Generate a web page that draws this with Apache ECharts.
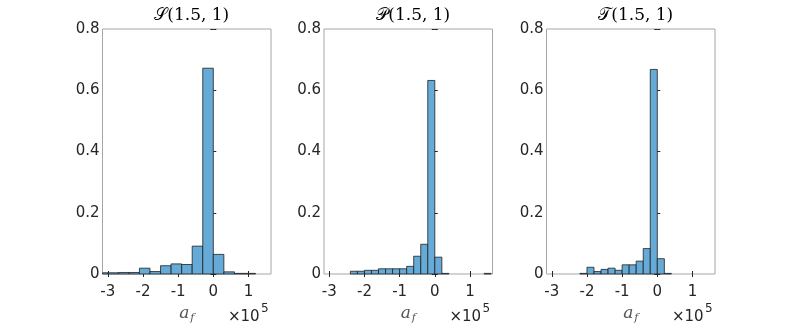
<!DOCTYPE html>
<html>
<head>
<meta charset="utf-8">
<script src="https://cdn.jsdelivr.net/npm/echarts@6/dist/echarts.min.js"></script>
<style>
  html, body { margin: 0; padding: 0; background: #fff; }
  #chart { width: 789px; height: 330px; }
</style>
</head>
<body>
<div id="chart"></div>
<script>
// panel titles
const titles = ["\u{1D4AE}(1.5, 1)", "\u{1D4AB}(1.5, 1)", "\u{1D4AF}(1.5, 1)"];

// histogram bins (x in units of 1e5), probability per bin
const sStart = -3.3;
const sWidth = 0.3;
const sProb = [0.004, 0.004, 0.005, 0.005, 0.019, 0.008, 0.027, 0.033, 0.031, 0.091, 0.672, 0.064, 0.007, 0.002, 0.002];

const pStart = -2.4;
const pWidth = 0.2;
const pProb = [0.009, 0.009, 0.012, 0.012, 0.017, 0.017, 0.017, 0.017, 0.025, 0.058, 0.097, 0.632, 0.055, 0.002, 0, 0, 0, 0, 0, 0.002];

const tStart = -2.2;
const tWidth = 0.2;
const tProb = [0.002, 0.022, 0.008, 0.015, 0.019, 0.012, 0.030, 0.030, 0.042, 0.083, 0.668, 0.050, 0.002];

// axis ticks
const xTicks = [-3, -2, -1, 0, 1];
const xMin = -3.15;
const xMax = 1.64;
const yMax = 0.8;
const yStep = 0.2;

const panels = [
  [sStart, sWidth, sProb],
  [pStart, pWidth, pProb],
  [tStart, tWidth, tProb],
];

const gridLefts = [102.5, 324, 546.5];
const gridTop = 29;
const gridW = 168.5;
const gridH = 245;

const chart = echarts.init(document.getElementById("chart"), null, { renderer: "canvas" });

const fillColor = "#66aad7";
const edgeColor = "#1f1f1f";
const tickColor = "#262626";
const labelFont = "DejaVu Sans";

function renderBin(params, api) {
  const lo = api.value(0);
  const hi = api.value(1);
  const p = api.value(2);
  if (!p) return;
  const a = api.coord([lo, p]);
  const b = api.coord([hi, 0]);
  const cs = params.coordSys;
  const shape = echarts.graphic.clipRectByRect(
    { x: a[0], y: a[1], width: b[0] - a[0], height: b[1] - a[1] },
    { x: cs.x, y: cs.y, width: cs.width, height: cs.height }
  );
  if (!shape) return;
  return {
    type: "rect",
    shape: shape,
    style: { fill: fillColor, stroke: edgeColor, lineWidth: 0.8 },
  };
}

const grids = [];
const xAxes = [];
const yAxes = [];
const series = [];
const titleList = [];
const graphics = [];

panels.forEach((pn, i) => {
  const [start, width, prob] = pn;
  grids.push({
    left: gridLefts[i],
    top: gridTop,
    width: gridW,
    height: gridH,
    outerBoundsMode: "none",
    containLabel: false,
    show: true,
    borderColor: "#a6a6a6",
    borderWidth: 1,
    backgroundColor: "#fff",
  });

  // bottom x axis
  xAxes.push({
    type: "value",
    gridIndex: i,
    min: xMin,
    max: xMax,
    position: "bottom",
    name: "{a|a}{f|f}",
    nameLocation: "middle",
    nameGap: 30,
    nameTextStyle: {
      rich: {
        a: { fontFamily: "DejaVu Serif", fontStyle: "italic", fontSize: 17, color: "#555" },
        f: { fontFamily: "DejaVu Serif", fontStyle: "italic", fontSize: 11, color: "#555", padding: [9, 0, 0, 1] },
      },
    },
    axisLine: { show: false },
    splitLine: { show: false },
    axisTick: { show: true, inside: true, length: 3, customValues: xTicks, lineStyle: { color: tickColor } },
    axisLabel: {
      customValues: xTicks,
      color: tickColor,
      fontFamily: labelFont,
      fontSize: 15,
      margin: 11,
    },
  });
  // y axis left
  yAxes.push({
    type: "value",
    gridIndex: i,
    min: 0,
    max: yMax,
    interval: yStep,
    position: "left",
    axisLine: { show: false },
    splitLine: { show: false },
    axisTick: { show: true, inside: true, length: 3, lineStyle: { color: tickColor } },
    axisLabel: {
      color: tickColor,
      fontFamily: labelFont,
      fontSize: 15,
      margin: 3,
      formatter: (v) => (v === 0 ? "0" : v.toFixed(1)),
    },
  });

  const data = prob.map((p, k) => [
    +(start + k * width).toFixed(2),
    +(start + (k + 1) * width).toFixed(2),
    p,
  ]);
  series.push({
    type: "custom",
    xAxisIndex: i,
    yAxisIndex: i,
    renderItem: renderBin,
    encode: { x: [0, 1], y: 2 },
    data: data,
    silent: true,
    z: 2,
  });

  const cx = gridLefts[i] + gridW / 2;
  titleList.push({
    text: titles[i],
    left: cx,
    top: 2,
    textAlign: "center",
    textStyle: { fontFamily: "DejaVu Serif", fontSize: 17, fontWeight: "normal", color: "#000" },
  });

  const rx = gridLefts[i] + gridW;
  graphics.push({
    type: "text",
    left: rx - 43,
    top: 310,
    style: { text: "\u00d710", font: "15px 'DejaVu Sans'", fill: tickColor },
  });
  graphics.push({
    type: "text",
    left: rx - 10,
    top: 303,
    style: { text: "5", font: "12px 'DejaVu Sans'", fill: tickColor },
  });
});

// mirrored axes for ticks on top and right
panels.forEach((pn, i) => {
  xAxes.push({
    type: "value",
    gridIndex: i,
    min: xMin,
    max: xMax,
    position: "top",
    axisLine: { show: false },
    splitLine: { show: false },
    axisLabel: { show: false },
    axisTick: { show: true, inside: true, length: 3, customValues: xTicks, lineStyle: { color: tickColor } },
  });
  yAxes.push({
    type: "value",
    gridIndex: i,
    min: 0,
    max: yMax,
    interval: yStep,
    position: "right",
    axisLine: { show: false },
    splitLine: { show: false },
    axisLabel: { show: false },
    axisTick: { show: true, inside: true, length: 3, lineStyle: { color: tickColor } },
  });
});

chart.setOption({
  animation: false,
  backgroundColor: "#fff",
  title: titleList,
  grid: grids,
  xAxis: xAxes,
  yAxis: yAxes,
  series: series,
  graphic: graphics,
});
</script>
</body>
</html>
